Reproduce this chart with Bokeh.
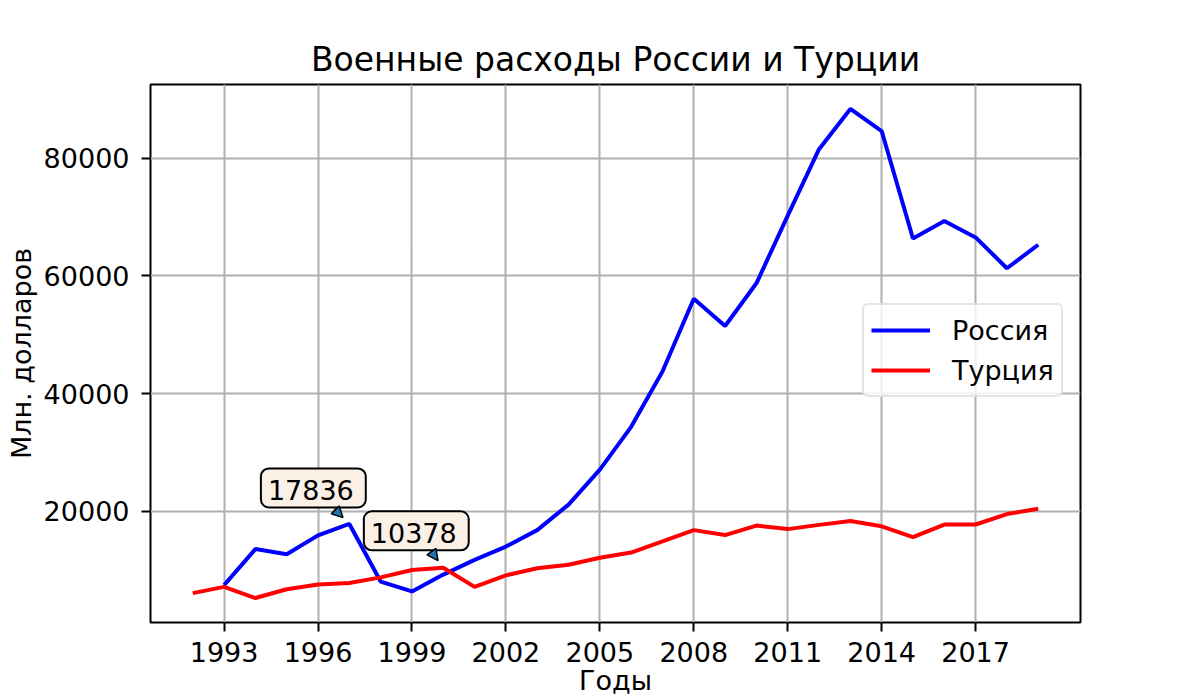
from bokeh.plotting import figure
from bokeh.models import Range1d, Label, Legend, LegendItem, Arrow, NormalHead, FixedTicker, BasicTickFormatter
from bokeh.embed import file_html
from bokeh.resources import INLINE
import math

# ---- data ----
years_russia = list(range(1993, 2020))
russia = [7440, 13570, 12680, 15900, 17836, 8040, 6370, 9230, 11730, 13990,
          16790, 21130, 27080, 34350, 43750, 56130, 51490, 58750, 70240, 81550,
          88390, 84640, 66370, 69350, 66550, 61310, 65300]
years_turkey = list(range(1992, 2020))
turkey = [6070, 7140, 5240, 6730, 7560, 7800, 8750, 10000, 10378, 7140,
          9100, 10300, 10900, 12080, 12980, 14880, 16790, 15950, 17560, 16960,
          17680, 18330, 17440, 15600, 17740, 17740, 19520, 20420]
x_ticks = [1993, 1996, 1999, 2002, 2005, 2008, 2011, 2014, 2017]
y_ticks = [20000, 40000, 60000, 80000]
series_names = ["Россия", "Турция"]
series_colors = ["#0000ff", "#ff0000"]
ann_x = [1997, 2000]
ann_y = [17836, 10378]
ann_text = ["17836", "10378"]
ann_offsets = [(-36, 36), (-27, 37)]

FONT = "DejaVu Sans"

# ranges with matplotlib-like 5% margins
all_x = years_russia + years_turkey
all_y = russia + turkey
xmin, xmax = min(all_x), max(all_x)
ymin, ymax = min(all_y), max(all_y)
xm = (xmax - xmin) * 0.05
ym = (ymax - ymin) * 0.05
x0, x1 = xmin - xm, xmax + xm
y0, y1 = ymin - ym, ymax + ym

p = figure(width=1200, height=700, output_backend="svg", toolbar_location=None,
           x_range=Range1d(x0, x1), y_range=Range1d(y0, y1),
           min_border_left=150, min_border_right=120, min_border_top=84, min_border_bottom=78)

p.title.text = "Военные расходы России и Турции"
p.title.align = "center"
p.title.text_font = FONT
p.title.text_font_size = "33px"
p.title.text_font_style = "normal"
p.title.text_color = "black"
p.title.standoff = 12

r1 = p.line(years_russia, russia, line_color=series_colors[0], line_width=4)
r2 = p.line(years_turkey, turkey, line_color=series_colors[1], line_width=4)

# axes
p.xaxis.ticker = FixedTicker(ticks=x_ticks)
p.yaxis.ticker = FixedTicker(ticks=y_ticks)
p.yaxis.formatter = BasicTickFormatter(use_scientific=False)
for ax in (p.xaxis[0], p.yaxis[0]):
    ax.major_label_text_font = FONT
    ax.major_label_text_font_size = "27px"
    ax.major_label_text_color = "black"
    ax.axis_label_text_font = FONT
    ax.axis_label_text_font_size = "27px"
    ax.axis_label_text_font_style = "normal"
    ax.axis_label_text_color = "black"
    ax.axis_line_color = None
    ax.major_tick_line_color = "black"
    ax.major_tick_line_width = 2
    ax.major_tick_out = 9
    ax.major_tick_in = 0
    ax.minor_tick_line_color = None
p.xaxis.axis_label = "Годы"
p.yaxis.axis_label = "Млн. долларов"
p.xaxis.major_label_standoff = 10
p.xaxis.axis_label_standoff = 0
p.yaxis.major_label_standoff = 12
p.yaxis.axis_label_standoff = 4

p.grid.grid_line_color = "#b0b0b0"
p.grid.grid_line_width = 2
p.outline_line_color = "black"
p.outline_line_width = 2
p.background_fill_color = "white"
p.border_fill_color = "white"

# legend
legend = Legend(items=[LegendItem(label=series_names[0], renderers=[r1]),
                       LegendItem(label=series_names[1], renderers=[r2])],
                location=(712, 225))
legend.label_text_font = FONT
legend.label_text_font_size = "27px"
legend.label_text_color = "black"
legend.glyph_width = 59
legend.glyph_height = 36
legend.label_height = 36
legend.label_standoff = 22
legend.spacing = 4
legend.padding = 7
legend.margin = 0
legend.border_line_color = "#cccccc"
legend.border_line_width = 2
legend.background_fill_color = "white"
legend.background_fill_alpha = 0.8
try:
    legend.border_radius = 6
except Exception:
    pass
p.add_layout(legend, "center")

# annotations
fw = 1200 - 150 - 120
fh = 700 - 84 - 78
px_per_x = fw / (x1 - x0)
px_per_y = fh / (y1 - y0)
for ax_, ay_, txt, (ox, oy) in zip(ann_x, ann_y, ann_text, ann_offsets):
    lab = Label(x=ax_, y=ay_, x_offset=ox, y_offset=oy, text=txt,
                text_align="center", text_baseline="middle",
                text_font=FONT, text_font_size="27px", text_color="black",
                background_fill_color="#faf0e6", border_line_color="black",
                border_line_width=2)
    try:
        lab.padding = (7, 12, 12, 7)
    except Exception:
        try:
            lab.padding = 9
        except Exception:
            pass
    try:
        lab.border_radius = 8
    except Exception:
        pass
    p.add_layout(lab)
    # arrow from box toward the point
    L = math.hypot(ox, oy)
    ux, uy = -ox / L, -oy / L
    tip_px = (-ux * 9, -uy * 9)
    start_px = (-ux * 21, -uy * 21)
    arr = Arrow(end=NormalHead(size=11, fill_color="#1f77b4", line_color="black", line_width=1.5),
                x_start=ax_ + start_px[0] / px_per_x, y_start=ay_ + start_px[1] / px_per_y,
                x_end=ax_ + tip_px[0] / px_per_x, y_end=ay_ + tip_px[1] / px_per_y,
                line_color="black", line_width=1.5)
    p.add_layout(arr)

open("out.html", "w").write(file_html(p, INLINE))
